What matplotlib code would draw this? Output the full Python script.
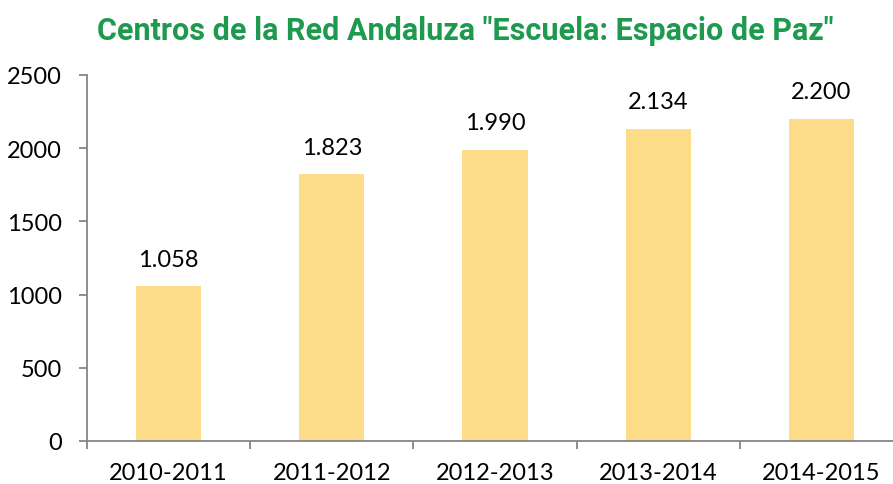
import matplotlib.pyplot as plt
import numpy as np

cursos = ['2010-2011', '2011-2012', '2012-2013', '2013-2014', '2014-2015']
centros = [1058, 1823, 1990, 2134, 2200]
etiquetas = ['1.058', '1.823', '1.990', '2.134', '2.200']
yticks = [0, 500, 1000, 1500, 2000, 2500]

bar_color = '#FDDD8A'
axis_color = '#868686'
title_color = '#1E9A4F'

fig = plt.figure(figsize=(8.93, 4.85), dpi=100)
ax = fig.add_axes([87 / 893, 43 / 485, 816 / 893, 366 / 485])

x = np.arange(len(cursos))
ax.bar(x, centros, width=0.4, color=bar_color, zorder=2)
for xi, v, lab in zip(x, centros, etiquetas):
    ax.annotate(lab, (xi, v), xytext=(0, 19.5), textcoords='offset points',
                ha='center', va='center', fontsize=17, family='Lato')

ax.set_xlim(-0.5, len(cursos) - 0.5)
ax.set_ylim(0, 2500)
ax.set_yticks(yticks)
ax.set_yticklabels([str(t) for t in yticks], fontsize=17, family='Lato')

# category labels centred, tick marks at the boundaries
ax.set_xticks(x)
ax.set_xticklabels(cursos, fontsize=17, family='Lato')
ax.tick_params(axis='x', which='major', length=0, pad=15)
ax.set_xticks(np.arange(len(cursos) + 1) - 0.5, minor=True)
ax.tick_params(axis='x', which='minor', length=6, color=axis_color, width=1.3)
ax.tick_params(axis='y', length=6, color=axis_color, width=1.3, pad=12)

for side in ['top', 'right']:
    ax.spines[side].set_visible(False)
for side in ['left', 'bottom']:
    ax.spines[side].set_color(axis_color)
    ax.spines[side].set_linewidth(1.3)

fig.text(465 / 893, 1 - 31 / 485, 'Centros de la Red Andaluza "Escuela: Espacio de Paz"',
         ha='center', va='center', fontsize=22, fontweight='bold', color=title_color,
         family=['Liberation Sans Narrow', 'Roboto', 'DejaVu Sans'])

fig.savefig('out.png', dpi=100)
